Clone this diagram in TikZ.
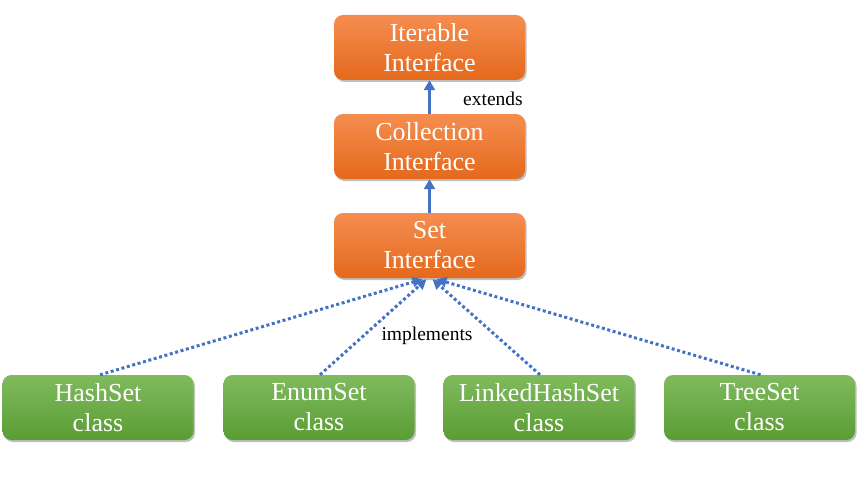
\documentclass[tikz,border=0pt]{standalone}
\usepackage{fontspec}
\setmainfont{Liberation Serif}
\usetikzlibrary{shadows,arrows.meta}
\definecolor{orTop}{HTML}{F58D50}
\definecolor{orBot}{HTML}{E4691C}
\definecolor{grTop}{HTML}{80BA5E}
\definecolor{grBot}{HTML}{5A9D34}
\definecolor{arrBlue}{HTML}{4472C4}
\begin{document}
\begin{tikzpicture}[x=1pt,y=1pt,
  boxbase/.style={rectangle, rounded corners=9pt, minimum width=191pt, minimum height=65pt,
    inner sep=0pt, text=white, align=center,
    font=\fontsize{26}{30}\selectfont,
    drop shadow={shadow xshift=1.5pt, shadow yshift=-2pt, opacity=0.25, fill=black}},
  iface/.style={boxbase, top color=orTop, bottom color=orBot},
  klass/.style={boxbase, top color=grTop, bottom color=grBot},
  extarrow/.style={draw=arrBlue, line width=3pt, -{Triangle[length=10pt,width=11pt]}},
  implarrow/.style={draw=arrBlue, line width=3pt, dash pattern=on 3pt off 2.6pt,
    -{Triangle[length=10pt,width=10pt]}},
  lbl/.style={font=\fontsize{19.5}{22}\selectfont, text=black, inner sep=0pt}
]
\useasboundingbox (0,0) rectangle (858,-476);
\node[iface] (iter) at (429.5,-47.5) {Iterable\\Interface};
\node[iface] (coll) at (429.5,-146.5) {Collection\\Interface};
\node[iface] (set)  at (429.5,-245.5) {Set\\Interface};
\node[klass] (hash) at (98,-407.5) {HashSet\\class};
\node[klass] (enum) at (319,-407.5) {EnumSet\\class};
\node[klass] (link) at (539,-407.5) {LinkedHashSet\\class};
\node[klass] (tree) at (759.5,-407.5) {TreeSet\\class};
\draw[extarrow] (coll.north) -- (iter.south);
\draw[extarrow] (set.north) -- (coll.south);
\node[lbl] (ext) at (493,-99) {extends};
\draw[implarrow] ([xshift=2pt]hash.north) -- ([xshift=-7pt,yshift=-1pt]set.south);
\draw[implarrow] ([xshift=1pt]enum.north) -- ([xshift=-3pt,yshift=-1pt]set.south);
\draw[implarrow] ([xshift=1pt]link.north) -- ([xshift=3pt,yshift=-1pt]set.south);
\draw[implarrow] ([xshift=1pt]tree.north) -- ([xshift=7pt,yshift=-1pt]set.south);
\node[lbl] (impl) at (427,-336) {implements};
\end{tikzpicture}
\end{document}
